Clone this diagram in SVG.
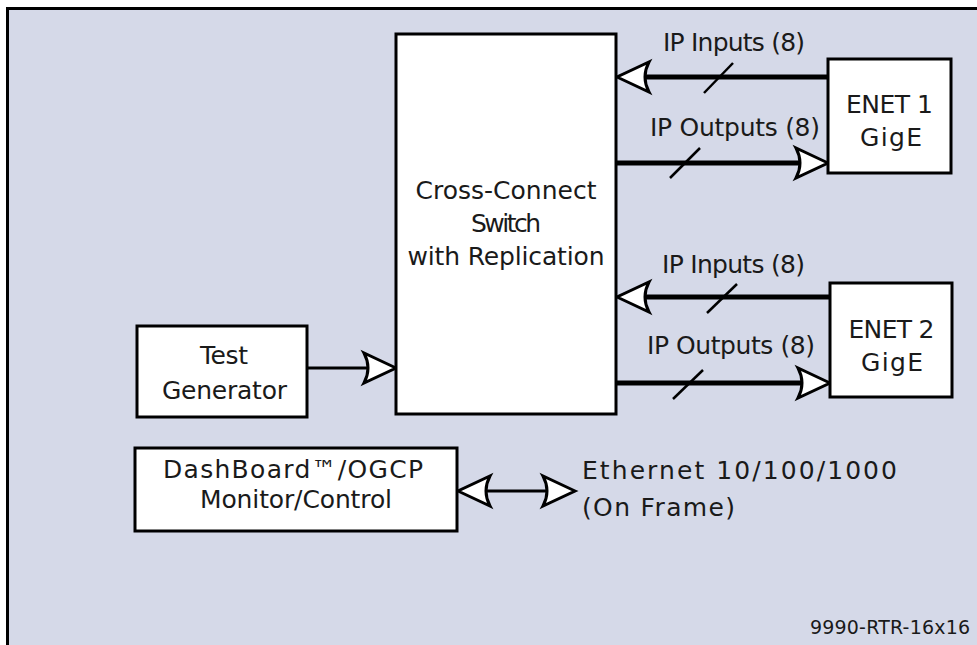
<svg xmlns="http://www.w3.org/2000/svg" width="977" height="645" viewBox="0 0 977 645">
<style>
.box{fill:#fff;stroke:#000;stroke-width:3}
.t{font-family:"DejaVu Sans","Liberation Sans",Arial,sans-serif;font-size:25px;fill:#1a1a1a;text-anchor:middle}
.tl{font-family:"DejaVu Sans","Liberation Sans",Arial,sans-serif;font-size:25px;fill:#1a1a1a}
.thick{stroke:#000;stroke-width:5;fill:none}
.thin{stroke:#000;stroke-width:3;fill:none}
.slash{stroke:#000;stroke-width:2.5}
.ah{fill:#fff;stroke:#000;stroke-width:3;stroke-linejoin:miter}
</style>
<defs>
<path id="ah" class="ah" d="M0,0 L-32,-15 Q-24,0 -32,15 Z"/>
</defs>
<rect x="7.5" y="8.5" width="980" height="650" fill="#d5d9e8" stroke="#000" stroke-width="3"/>
<g id="connectors">
<line class="thick" x1="645" y1="77" x2="828" y2="77"/>
<use href="#ah" transform="translate(617,77) rotate(180)"/>
<line class="slash" x1="733" y1="63" x2="704" y2="93"/>
<line class="thick" x1="617" y1="163" x2="800" y2="163"/>
<use href="#ah" transform="translate(828,163)"/>
<line class="slash" x1="700" y1="148" x2="670" y2="178"/>
<line class="thick" x1="645" y1="297" x2="830" y2="297"/>
<use href="#ah" transform="translate(617,297) rotate(180)"/>
<line class="slash" x1="737" y1="284" x2="707" y2="313"/>
<line class="thick" x1="617" y1="383" x2="802" y2="383"/>
<use href="#ah" transform="translate(830,383)"/>
<line class="slash" x1="703" y1="370" x2="673" y2="399"/>
<line class="thin" x1="307" y1="368" x2="368" y2="368"/>
<use href="#ah" transform="translate(396,368)"/>
<line class="thin" x1="480" y1="491" x2="550" y2="491"/>
<use href="#ah" transform="translate(458,491) rotate(180)"/>
<use href="#ah" transform="translate(575,491)"/>
</g>
<g id="crossconnect">
<rect class="box" x="396" y="34" width="220" height="380"/>
<text class="t" x="506" y="199" textLength="181">Cross-Connect</text>
<text class="t" x="506" y="232" textLength="70">Switch</text>
<text class="t" x="506" y="265" textLength="197">with Replication</text>
</g>
<g id="enet1">
<rect class="box" x="828" y="59" width="123" height="114"/>
<text class="t" x="889.5" y="113" textLength="87">ENET 1</text>
<text class="t" x="891" y="146" textLength="62">GigE</text>
</g>
<g id="enet2">
<rect class="box" x="830" y="283" width="122" height="114"/>
<text class="t" x="891.5" y="338" textLength="86">ENET 2</text>
<text class="t" x="892" y="371" textLength="62">GigE</text>
</g>
<g id="testgen">
<rect class="box" x="137" y="326" width="170" height="91"/>
<text class="t" x="224" y="364" textLength="48">Test</text>
<text class="t" x="224.5" y="399" textLength="125">Generator</text>
</g>
<g id="dashboard">
<rect class="box" x="135" y="448" width="322" height="83"/>
<text class="t" x="293" y="478" textLength="260">DashBoard™/OGCP</text>
<text class="t" x="296" y="508" textLength="192">Monitor/Control</text>
</g>
<g id="labels">
<text class="t" x="734" y="51" textLength="142">IP Inputs (8)</text>
<text class="t" x="735" y="136" textLength="170">IP Outputs (8)</text>
<text class="t" x="733.5" y="273" textLength="143">IP Inputs (8)</text>
<text class="t" x="731" y="354" textLength="168">IP Outputs (8)</text>
<text class="tl" x="582" y="479" textLength="315">Ethernet 10/100/1000</text>
<text class="tl" x="582" y="516" textLength="153">(On Frame)</text>
<text class="tl" x="970" y="634" style="font-size:19px;text-anchor:end" textLength="160">9990-RTR-16x16</text>
</g>
</svg>
